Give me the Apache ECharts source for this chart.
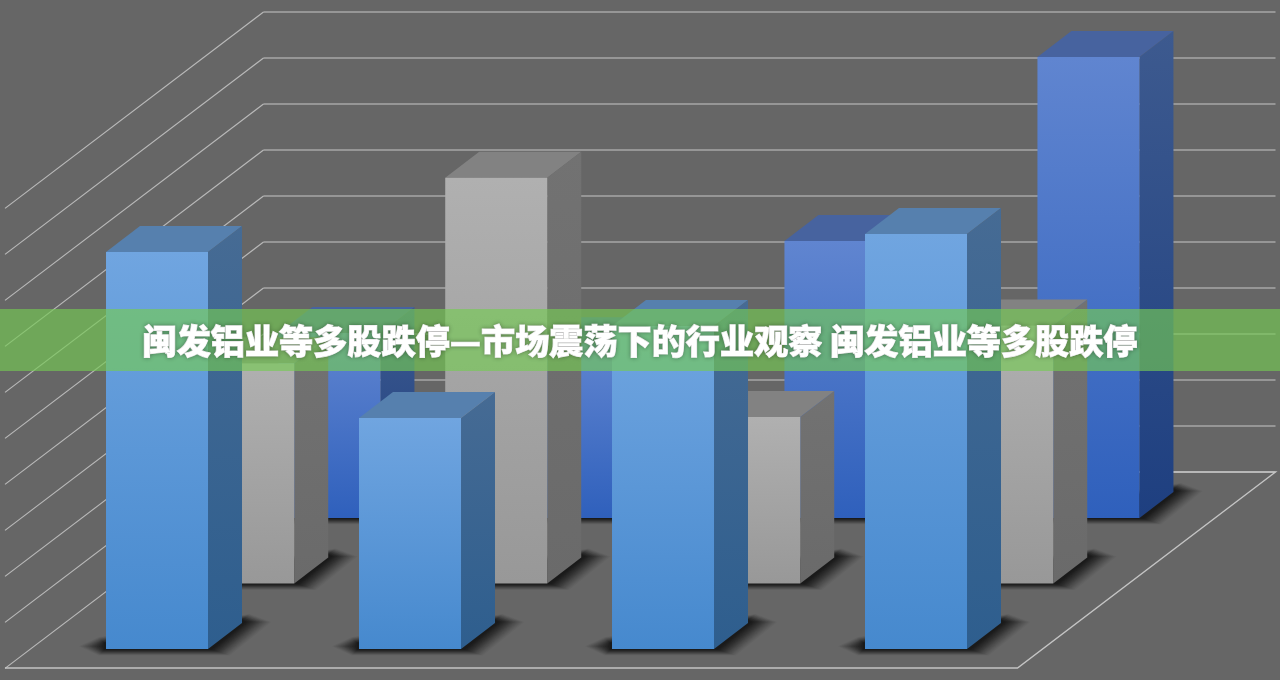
<!DOCTYPE html>
<html><head><meta charset="utf-8">
<script src="https://cdn.jsdelivr.net/npm/echarts@6/dist/echarts.min.js"></script>
<style>html,body{margin:0;padding:0;background:#666}#c{width:1280px;height:680px}</style>
</head><body><div id="c"></div>
<script>
const categories = ['A', 'B', 'C', 'D'];
const frontValues = [86.3, 50.2, 70.2, 90.2];
const middleValues = [47.9, 88.2, 36.2, 56.1];
const backValues = [40.2, 38, 60.2, 100.2];
const tickValues = [0, 10, 20, 30, 40, 50, 60, 70, 80, 90, 100];
const titleText = '闽发铝业等多股跌停—市场震荡下的行业观察 闽发铝业等多股跌停';

const SLOPE = 258 / 196;
const W = 102, DX = 34, DY = 26;
const palettes = {
  front: {top: '#5680ae', frontA: '#70a5e0', frontB: '#4689ce', sideA: '#466b94', sideB: '#2e5e8e'},
  middle: {top: '#828282', frontA: '#b0b0b0', frontB: '#989898', sideA: '#727272', sideB: '#6a6a6a'},
  back: {top: '#47639f', frontA: '#6085d0', frontB: '#2f60bc', sideA: '#3d5a8f', sideB: '#1e3f80'}
};
function vGrad(a, b) {
  return {type: 'linear', x: 0, y: 0, x2: 0, y2: 1, colorStops: [{offset: 0, color: a}, {offset: 1, color: b}]};
}
function softShadow(x0, x1, yb) {
  const layers = [];
  for (let i = 14; i >= 0; i--) {
    const ex = i * 1.8, ey = i * 0.42;
    const xL = x0 - 2 - ex, yT = yb - 6 - ey, yB = yb + 0.5 + ey;
    layers.push({type: 'polygon', shape: {points: [
      [xL + ex * 0.8, yT], [x1 + DX + ex * 0.3, yb - DY - 3 - ey], [x1 + DX + 4 + ex, yb - DY - 1],
      [x1 + 4 + ex * 0.7, yB], [xL + ex * 0.8, yB], [xL, (yT + yB) / 2]
    ]}, style: {fill: 'rgba(10,10,10,' + (0.04 + 0.11 * (1 - i / 14)).toFixed(3) + ')'}});
  }
  return layers;
}
function barRenderer(depth, pal) {
  return function (params, api) {
    const cat = api.value(0);
    const topPt = api.coord([cat, api.value(1)]);
    const basePt = api.coord([cat, 0]);
    const ox = -depth * SLOPE - W / 2, oy = depth;
    const x0 = topPt[0] + ox, x1 = x0 + W;
    const yt = topPt[1] + oy, yb = basePt[1] + oy;
    return {
      type: 'group',
      children: softShadow(x0, x1, yb).concat([
        {type: 'polygon', shape: {points: [[x0, yt], [x1, yt], [x1 + DX, yt - DY], [x0 + DX, yt - DY]]}, style: {fill: pal.top}},
        {type: 'polygon', shape: {points: [[x1, yt], [x1 + DX, yt - DY], [x1 + DX, yb - DY], [x1, yb]]}, style: {fill: vGrad(pal.sideA, pal.sideB)}},
        {type: 'rect', shape: {x: x0, y: yt, width: W, height: yb - yt}, style: {fill: vGrad(pal.frontA, pal.frontB)}}
      ])
    };
  };
}
function diagonalRenderer(params, api) {
  const p = api.coord([0, api.value(0)]);
  const x0 = params.coordSys.x, y0 = p[1];
  return {type: 'line', shape: {x1: x0, y1: y0, x2: 5, y2: y0 + (x0 - 5) / SLOPE},
    style: {stroke: '#b9b9b9', lineWidth: 1.2}};
}
function floorRenderer(params, api) {
  const cs = params.coordSys;
  const y = api.coord([0, 0])[1], right = cs.x + cs.width;
  const d = 196;
  return {type: 'polyline', shape: {points: [[5, y + d], [right - d * SLOPE, y + d], [right, y], [cs.x, y]]},
    style: {stroke: '#c4c4c4', lineWidth: 1.4, fill: 'none'}};
}
const toPairs = arr => arr.map((v, i) => [i, v]);
const chart = echarts.init(document.getElementById('c'), null, {renderer: 'canvas'});
chart.setOption({
  animation: false,
  backgroundColor: '#666666',
  grid: {left: 263.5, width: 1012, top: 12, height: 460},
  xAxis: {type: 'category', data: categories, axisLine: {show: false}, axisTick: {show: false}, axisLabel: {show: false}},
  yAxis: {type: 'value', min: 0, max: 100, interval: 10, axisLine: {show: false}, axisTick: {show: false}, axisLabel: {show: false},
    splitLine: {show: true, lineStyle: {color: '#969696', width: 2}}},
  title: {text: titleText, left: 'center', top: 319, z: 60,
    textStyle: {color: '#ffffff', fontSize: 34.15, fontWeight: 900, fontFamily: '"Noto Sans CJK SC"',
      textBorderColor: '#ffffff', textBorderWidth: 1, textShadowColor: 'rgba(0,0,0,0.3)', textShadowBlur: 4}},
  graphic: [{type: 'rect', z: 50, shape: {x: 0, y: 309, width: 1280, height: 62}, style: {fill: 'rgba(117,203,83,0.65)'}}],
  series: [
    {type: 'custom', coordinateSystem: 'cartesian2d', z: 1, silent: true, data: tickValues.map(v => [v]), encode: {y: 0}, renderItem: diagonalRenderer, clip: false},
    {type: 'custom', coordinateSystem: 'cartesian2d', z: 1, silent: true, data: [[0]], encode: {y: 0}, renderItem: floorRenderer, clip: false},
    {type: 'custom', name: '后排', coordinateSystem: 'cartesian2d', z: 3, data: toPairs(backValues), encode: {x: 0, y: 1}, renderItem: barRenderer(46, palettes.back), clip: false},
    {type: 'custom', name: '中排', coordinateSystem: 'cartesian2d', z: 4, data: toPairs(middleValues), encode: {x: 0, y: 1}, renderItem: barRenderer(111.5, palettes.middle), clip: false},
    {type: 'custom', name: '前排', coordinateSystem: 'cartesian2d', z: 5, data: toPairs(frontValues), encode: {x: 0, y: 1}, renderItem: barRenderer(177, palettes.front), clip: false}
  ]
});
</script></body></html>
